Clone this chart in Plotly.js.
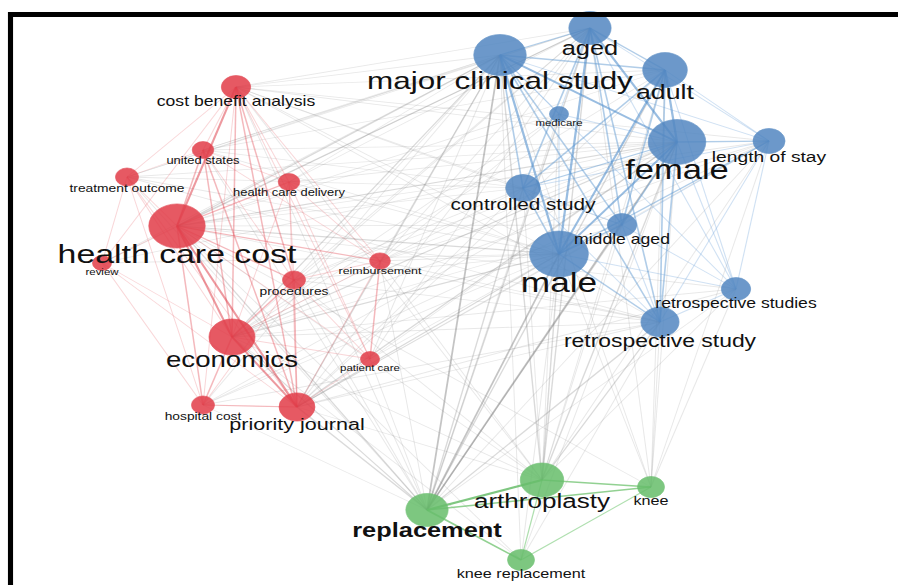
<!DOCTYPE html>
<html>
<head>
<meta charset="utf-8">
<script src="https://cdn.plot.ly/plotly-3.0.1.min.js"></script>
<style>
  html, body { margin: 0; padding: 0; background: #ffffff; overflow: hidden; }
  #wrap { width: 898px; height: 585px; overflow: hidden; }
  /* the network map is laid out on a narrower canvas and widened to the page */
  #chart { width: 702px; height: 585px; transform: scaleX(1.2792); transform-origin: 0 0; }
</style>
</head>
<body>
<div id="wrap"><div id="chart"></div></div>
<script>
// ---- keyword co-occurrence network ----
const labels = [
  'cost benefit analysis', 'united states', 'treatment outcome', 'health care delivery',
  'health care cost', 'review', 'reimbursement', 'procedures', 'economics',
  'patient care', 'hospital cost', 'priority journal',
  'aged', 'major clinical study', 'adult', 'medicare', 'female', 'length of stay',
  'controlled study', 'middle aged', 'male', 'retrospective studies', 'retrospective study',
  'arthroplasty', 'knee', 'replacement', 'knee replacement'
];
const nodeX = [236, 203, 127, 289, 177, 102, 380, 294, 232, 370, 203, 297,
               590, 500, 665, 559, 677, 769, 523, 622, 559, 736, 660,
               542, 651, 427, 521];
const nodeY = [87, 150, 177, 182, 226, 263, 261, 280, 337, 359, 405, 407,
               28, 55, 70, 114, 142, 141, 188, 225, 254, 289, 322,
               480, 487, 510, 560];
const occurrences = [26, 14, 16, 14, 96, 11, 13, 16, 64, 11, 16, 39,
                     54, 83, 60, 11, 100, 31, 36, 26, 104, 26, 44,
                     57, 22, 54, 22];
const cluster = [1, 1, 1, 1, 1, 1, 1, 1, 1, 1, 1, 1,
                 2, 2, 2, 2, 2, 2, 2, 2, 2, 2, 2,
                 3, 3, 3, 3];
const boldLabels = ['replacement'];

// links: [keyword, keyword, link strength class]
const links = [
  // cluster 1
  ['cost benefit analysis', 'health care cost', 3], ['cost benefit analysis', 'economics', 2],
  ['cost benefit analysis', 'priority journal', 2], ['cost benefit analysis', 'procedures', 2],
  ['cost benefit analysis', 'hospital cost', 1], ['cost benefit analysis', 'united states', 1],
  ['cost benefit analysis', 'treatment outcome', 1], ['cost benefit analysis', 'health care delivery', 1],
  ['cost benefit analysis', 'reimbursement', 1], ['cost benefit analysis', 'patient care', 1],
  ['cost benefit analysis', 'review', 1],
  ['health care cost', 'economics', 3], ['health care cost', 'priority journal', 3],
  ['health care cost', 'united states', 2], ['health care cost', 'treatment outcome', 1],
  ['health care cost', 'health care delivery', 2], ['health care cost', 'review', 1],
  ['health care cost', 'reimbursement', 2], ['health care cost', 'procedures', 2],
  ['health care cost', 'patient care', 1], ['health care cost', 'hospital cost', 2],
  ['economics', 'priority journal', 3], ['economics', 'hospital cost', 2],
  ['economics', 'procedures', 2], ['economics', 'reimbursement', 1],
  ['economics', 'patient care', 1], ['economics', 'treatment outcome', 1],
  ['economics', 'united states', 2], ['economics', 'review', 1],
  ['economics', 'health care delivery', 1],
  ['priority journal', 'hospital cost', 2], ['priority journal', 'procedures', 2],
  ['priority journal', 'reimbursement', 1], ['priority journal', 'patient care', 1],
  ['priority journal', 'treatment outcome', 1], ['priority journal', 'united states', 2],
  ['priority journal', 'health care delivery', 1], ['priority journal', 'review', 1],
  ['united states', 'treatment outcome', 1], ['united states', 'health care delivery', 1],
  ['united states', 'procedures', 1], ['united states', 'reimbursement', 1],
  ['treatment outcome', 'review', 1], ['treatment outcome', 'hospital cost', 1],
  ['health care delivery', 'reimbursement', 1], ['health care delivery', 'procedures', 1],
  ['health care delivery', 'patient care', 1],
  ['procedures', 'reimbursement', 1], ['procedures', 'patient care', 1],
  ['procedures', 'hospital cost', 1], ['reimbursement', 'patient care', 2],
  ['review', 'hospital cost', 1],
  // cluster 2
  ['major clinical study', 'aged', 2], ['major clinical study', 'adult', 2],
  ['major clinical study', 'female', 3], ['major clinical study', 'male', 3],
  ['major clinical study', 'controlled study', 2], ['major clinical study', 'middle aged', 2],
  ['major clinical study', 'retrospective study', 2], ['major clinical study', 'retrospective studies', 1],
  ['major clinical study', 'length of stay', 1], ['major clinical study', 'medicare', 1],
  ['aged', 'adult', 2], ['aged', 'female', 3], ['aged', 'male', 3],
  ['aged', 'controlled study', 2], ['aged', 'middle aged', 2], ['aged', 'retrospective study', 2],
  ['aged', 'length of stay', 1], ['aged', 'medicare', 1], ['aged', 'retrospective studies', 1],
  ['adult', 'female', 3], ['adult', 'male', 3], ['adult', 'controlled study', 2],
  ['adult', 'middle aged', 2], ['adult', 'retrospective study', 2],
  ['adult', 'retrospective studies', 1], ['adult', 'length of stay', 1],
  ['female', 'male', 3], ['female', 'controlled study', 2], ['female', 'middle aged', 2],
  ['female', 'retrospective study', 2], ['female', 'retrospective studies', 1],
  ['female', 'length of stay', 2], ['female', 'medicare', 1],
  ['male', 'controlled study', 2], ['male', 'middle aged', 2], ['male', 'retrospective study', 2],
  ['male', 'retrospective studies', 1], ['male', 'length of stay', 2], ['male', 'medicare', 1],
  ['controlled study', 'middle aged', 1], ['controlled study', 'retrospective study', 1],
  ['controlled study', 'length of stay', 1],
  ['middle aged', 'retrospective study', 1], ['middle aged', 'retrospective studies', 1],
  ['middle aged', 'length of stay', 1],
  ['retrospective study', 'retrospective studies', 1], ['retrospective study', 'length of stay', 1],
  ['retrospective studies', 'length of stay', 1],
  // cluster 3
  ['replacement', 'arthroplasty', 3], ['replacement', 'knee', 2],
  ['replacement', 'knee replacement', 2], ['arthroplasty', 'knee', 2],
  ['arthroplasty', 'knee replacement', 1], ['knee', 'knee replacement', 1],
  // between clusters
  ['replacement', 'male', 3], ['replacement', 'female', 3], ['replacement', 'major clinical study', 3],
  ['replacement', 'aged', 2], ['replacement', 'adult', 2], ['replacement', 'controlled study', 2],
  ['replacement', 'middle aged', 2], ['replacement', 'retrospective study', 2],
  ['replacement', 'health care cost', 2], ['replacement', 'economics', 2],
  ['replacement', 'priority journal', 2], ['replacement', 'cost benefit analysis', 1],
  ['replacement', 'procedures', 1], ['replacement', 'reimbursement', 1],
  ['replacement', 'united states', 1], ['replacement', 'length of stay', 1],
  ['replacement', 'retrospective studies', 1], ['replacement', 'medicare', 1],
  ['replacement', 'hospital cost', 1], ['replacement', 'patient care', 1],
  ['replacement', 'treatment outcome', 1],
  ['arthroplasty', 'male', 2], ['arthroplasty', 'female', 2], ['arthroplasty', 'major clinical study', 2],
  ['arthroplasty', 'aged', 2], ['arthroplasty', 'adult', 1], ['arthroplasty', 'controlled study', 1],
  ['arthroplasty', 'middle aged', 1], ['arthroplasty', 'retrospective study', 2],
  ['arthroplasty', 'retrospective studies', 1], ['arthroplasty', 'health care cost', 1],
  ['arthroplasty', 'economics', 1], ['arthroplasty', 'priority journal', 1],
  ['arthroplasty', 'length of stay', 1], ['arthroplasty', 'medicare', 1],
  ['arthroplasty', 'cost benefit analysis', 1], ['arthroplasty', 'procedures', 1],
  ['arthroplasty', 'reimbursement', 1],
  ['knee', 'female', 1], ['knee', 'male', 1], ['knee', 'retrospective study', 1],
  ['knee', 'retrospective studies', 1], ['knee', 'length of stay', 1], ['knee', 'adult', 1],
  ['knee', 'aged', 1], ['knee', 'major clinical study', 1], ['knee', 'health care cost', 1],
  ['knee replacement', 'male', 1], ['knee replacement', 'female', 1],
  ['knee replacement', 'retrospective study', 1], ['knee replacement', 'major clinical study', 1],
  ['knee replacement', 'economics', 1], ['knee replacement', 'health care cost', 1],
  ['health care cost', 'major clinical study', 2], ['health care cost', 'male', 2],
  ['health care cost', 'female', 2], ['health care cost', 'aged', 2], ['health care cost', 'adult', 1],
  ['health care cost', 'controlled study', 1], ['health care cost', 'retrospective study', 1],
  ['health care cost', 'length of stay', 1], ['health care cost', 'medicare', 1],
  ['health care cost', 'middle aged', 1], ['health care cost', 'retrospective studies', 1],
  ['economics', 'major clinical study', 2], ['economics', 'male', 2], ['economics', 'female', 2],
  ['economics', 'aged', 1], ['economics', 'adult', 1], ['economics', 'controlled study', 1],
  ['economics', 'retrospective study', 1], ['economics', 'middle aged', 1],
  ['economics', 'length of stay', 1], ['economics', 'medicare', 1],
  ['economics', 'retrospective studies', 1],
  ['cost benefit analysis', 'major clinical study', 1], ['cost benefit analysis', 'aged', 1],
  ['cost benefit analysis', 'male', 1], ['cost benefit analysis', 'female', 1],
  ['cost benefit analysis', 'adult', 1], ['cost benefit analysis', 'controlled study', 1],
  ['cost benefit analysis', 'retrospective study', 1], ['cost benefit analysis', 'length of stay', 1],
  ['cost benefit analysis', 'middle aged', 1],
  ['priority journal', 'male', 2], ['priority journal', 'female', 2],
  ['priority journal', 'major clinical study', 2], ['priority journal', 'aged', 1],
  ['priority journal', 'adult', 1], ['priority journal', 'controlled study', 1],
  ['priority journal', 'retrospective study', 1], ['priority journal', 'length of stay', 1],
  ['priority journal', 'middle aged', 1], ['priority journal', 'retrospective studies', 1],
  ['united states', 'major clinical study', 1], ['united states', 'male', 1], ['united states', 'aged', 1],
  ['united states', 'female', 1], ['united states', 'adult', 1], ['united states', 'controlled study', 1],
  ['treatment outcome', 'male', 1], ['treatment outcome', 'major clinical study', 1],
  ['treatment outcome', 'female', 1], ['treatment outcome', 'aged', 1],
  ['treatment outcome', 'retrospective study', 1], ['treatment outcome', 'controlled study', 1],
  ['health care delivery', 'male', 1], ['health care delivery', 'major clinical study', 1],
  ['health care delivery', 'female', 1], ['health care delivery', 'aged', 1],
  ['procedures', 'male', 1], ['procedures', 'female', 1], ['procedures', 'major clinical study', 1],
  ['procedures', 'aged', 1], ['procedures', 'retrospective study', 1], ['procedures', 'controlled study', 1],
  ['reimbursement', 'male', 1], ['reimbursement', 'medicare', 1], ['reimbursement', 'major clinical study', 1],
  ['reimbursement', 'female', 1], ['reimbursement', 'aged', 1], ['reimbursement', 'length of stay', 1],
  ['reimbursement', 'retrospective study', 1],
  ['patient care', 'male', 1], ['patient care', 'female', 1],
  ['patient care', 'major clinical study', 1], ['patient care', 'aged', 1],
  ['hospital cost', 'male', 1], ['hospital cost', 'female', 1],
  ['hospital cost', 'major clinical study', 1], ['hospital cost', 'length of stay', 1],
  ['hospital cost', 'retrospective study', 1],
  ['review', 'major clinical study', 1], ['review', 'male', 1],
  ['review', 'female', 1], ['review', 'aged', 1]
];

// ---- drawing ----
const nodeColor = {1: 'rgb(226,62,74)', 2: 'rgb(84,136,194)', 3: 'rgb(104,190,108)'};
const edgeStyle = {
  0: [['rgba(150,150,150,0.22)', 0.8], ['rgba(132,132,132,0.30)', 1.1], ['rgba(115,115,115,0.42)', 1.4]],
  1: [['rgba(232,92,100,0.25)', 0.8], ['rgba(226,72,82,0.38)', 1.2], ['rgba(220,60,70,0.52)', 1.7]],
  2: [['rgba(120,170,220,0.35)', 0.9], ['rgba(100,155,210,0.50)', 1.3], ['rgba(85,145,205,0.60)', 1.8]],
  3: [['rgba(110,196,110,0.55)', 1.0], ['rgba(100,190,100,0.70)', 1.6], ['rgba(95,185,98,0.80)', 2.2]]
};

const idx = {};
labels.forEach((l, i) => { idx[l] = i; });
const diam = occurrences.map(o => 4.5 * Math.sqrt(o));

const groups = {};
links.forEach(([a, b, w]) => {
  const i = idx[a], j = idx[b];
  const c = cluster[i] === cluster[j] ? cluster[i] : 0;
  const key = c + '_' + w;
  if (!groups[key]) groups[key] = {c: c, w: w, x: [], y: []};
  groups[key].x.push(nodeX[i], nodeX[j], null);
  groups[key].y.push(nodeY[i], nodeY[j], null);
});

const traces = [];
[0, 1, 2, 3].forEach(c => {
  [1, 2, 3].forEach(w => {
    const g = groups[c + '_' + w];
    if (!g) return;
    const st = edgeStyle[c][w - 1];
    traces.push({
      type: 'scatter', mode: 'lines', x: g.x, y: g.y,
      line: {color: st[0], width: st[1]},
      hoverinfo: 'skip', showlegend: false
    });
  });
});

traces.push({
  type: 'scatter', mode: 'markers', x: nodeX, y: nodeY,
  marker: {
    size: diam,
    color: cluster.map(c => nodeColor[c]),
    opacity: 0.86,
    line: {width: 0.6, color: cluster.map(c => nodeColor[c])}
  },
  hoverinfo: 'skip', showlegend: false
});

traces.push({
  type: 'scatter', mode: 'text',
  x: nodeX,
  y: nodeY.map((y, i) => y + 0.68 * diam[i]),
  text: labels.map(l => boldLabels.includes(l) ? '<b>' + l + '</b>' : l),
  textposition: 'middle center',
  textfont: {family: 'Liberation Sans, Arial, sans-serif', size: diam.map(d => 0.6 * d), color: '#111111'},
  hoverinfo: 'skip', showlegend: false
});

const layout = {
  width: 702, height: 585,
  margin: {l: 0, r: 0, t: 0, b: 0},
  paper_bgcolor: '#ffffff', plot_bgcolor: '#ffffff',
  xaxis: {range: [0, 898], visible: false, fixedrange: true},
  yaxis: {range: [585, 0], visible: false, fixedrange: true},
  shapes: [
    {type: 'line', xref: 'x', yref: 'y', x0: 8, x1: 898, y0: 14.5, y1: 14.5,
     line: {color: '#000000', width: 5}, layer: 'above'},
    {type: 'line', xref: 'x', yref: 'y', x0: 10.5, x1: 10.5, y0: 12, y1: 585,
     line: {color: '#000000', width: 4}, layer: 'above'}
  ]
};

Plotly.newPlot('chart', traces, layout, {staticPlot: true, displayModeBar: false});
</script>
</body>
</html>
